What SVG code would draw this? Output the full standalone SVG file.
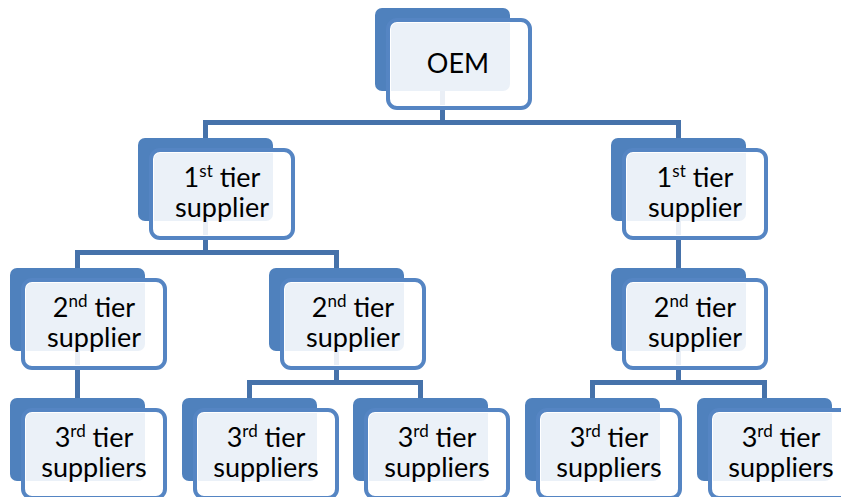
<svg xmlns="http://www.w3.org/2000/svg" width="841" height="497" viewBox="0 0 841 497">
<style>
.back{fill:#4f81bd}
.front{fill:#ffffff;fill-opacity:0.89;stroke:#ffffff;stroke-width:2}
.frame{fill:none;stroke:#5585c3;stroke-width:4}
.conn{fill:none;stroke:#4672aa;stroke-width:5;stroke-linejoin:miter}
text{font-family:Lato,"Open Sans",sans-serif;font-size:27px;fill:#000;text-anchor:middle}
.sup{font-size:17px}
</style>
<defs>
<rect id="bk" class="back" x="0" y="0" width="135" height="83" rx="7"/>
<g id="fr">
<rect class="front" x="15" y="14" width="138" height="84" rx="7"/>
<rect class="frame" x="13" y="12" width="142" height="88" rx="9"/>
</g>
</defs>
<rect width="841" height="497" fill="#fff"/>
<g id="backs">
<use href="#bk" x="375" y="8"/>
<use href="#bk" x="138" y="138"/>
<use href="#bk" x="611" y="138"/>
<use href="#bk" x="10" y="268"/>
<use href="#bk" x="269" y="268"/>
<use href="#bk" x="611" y="268"/>
<use href="#bk" x="10" y="398"/>
<use href="#bk" x="182" y="398"/>
<use href="#bk" x="353" y="398"/>
<use href="#bk" x="525" y="398"/>
<use href="#bk" x="697" y="398"/>
</g>
<g id="connectors">
<path class="conn" d="M442.5 91V122.5M205.5 138V122.5H678.5V138"/>
<path class="conn" d="M205.5 221V252.5M77.5 268V252.5H336.5V268"/>
<path class="conn" d="M678.5 221V268"/>
<path class="conn" d="M77.5 351V398"/>
<path class="conn" d="M336.5 351V382.5M249.5 398V382.5H420.5V398"/>
<path class="conn" d="M678.5 351V382.5M592.5 398V382.5H764.5V398"/>
</g>
<g id="oem"><use href="#fr" x="375" y="8"/><text x="458" y="73">OEM</text></g>
<g id="tier1-left"><use href="#fr" x="138" y="138"/><text x="222" y="187">1<tspan class="sup" dy="-10">st</tspan><tspan dy="10"> tier</tspan></text><text x="222" y="217">supplier</text></g>
<g id="tier1-right"><use href="#fr" x="611" y="138"/><text x="695" y="187">1<tspan class="sup" dy="-10">st</tspan><tspan dy="10"> tier</tspan></text><text x="695" y="217">supplier</text></g>
<g id="tier2-a"><use href="#fr" x="10" y="268"/><text x="94" y="317">2<tspan class="sup" dy="-10">nd</tspan><tspan dy="10"> tier</tspan></text><text x="94" y="347">supplier</text></g>
<g id="tier2-b"><use href="#fr" x="269" y="268"/><text x="353" y="317">2<tspan class="sup" dy="-10">nd</tspan><tspan dy="10"> tier</tspan></text><text x="353" y="347">supplier</text></g>
<g id="tier2-c"><use href="#fr" x="611" y="268"/><text x="695" y="317">2<tspan class="sup" dy="-10">nd</tspan><tspan dy="10"> tier</tspan></text><text x="695" y="347">supplier</text></g>
<g id="tier3-a"><use href="#fr" x="10" y="398"/><text x="94" y="447">3<tspan class="sup" dy="-10">rd</tspan><tspan dy="10"> tier</tspan></text><text x="94" y="477">suppliers</text></g>
<g id="tier3-b"><use href="#fr" x="182" y="398"/><text x="266" y="447">3<tspan class="sup" dy="-10">rd</tspan><tspan dy="10"> tier</tspan></text><text x="266" y="477">suppliers</text></g>
<g id="tier3-c"><use href="#fr" x="353" y="398"/><text x="437" y="447">3<tspan class="sup" dy="-10">rd</tspan><tspan dy="10"> tier</tspan></text><text x="437" y="477">suppliers</text></g>
<g id="tier3-d"><use href="#fr" x="525" y="398"/><text x="609" y="447">3<tspan class="sup" dy="-10">rd</tspan><tspan dy="10"> tier</tspan></text><text x="609" y="477">suppliers</text></g>
<g id="tier3-e"><use href="#fr" x="697" y="398"/><text x="781" y="447">3<tspan class="sup" dy="-10">rd</tspan><tspan dy="10"> tier</tspan></text><text x="781" y="477">suppliers</text></g>
</svg>
